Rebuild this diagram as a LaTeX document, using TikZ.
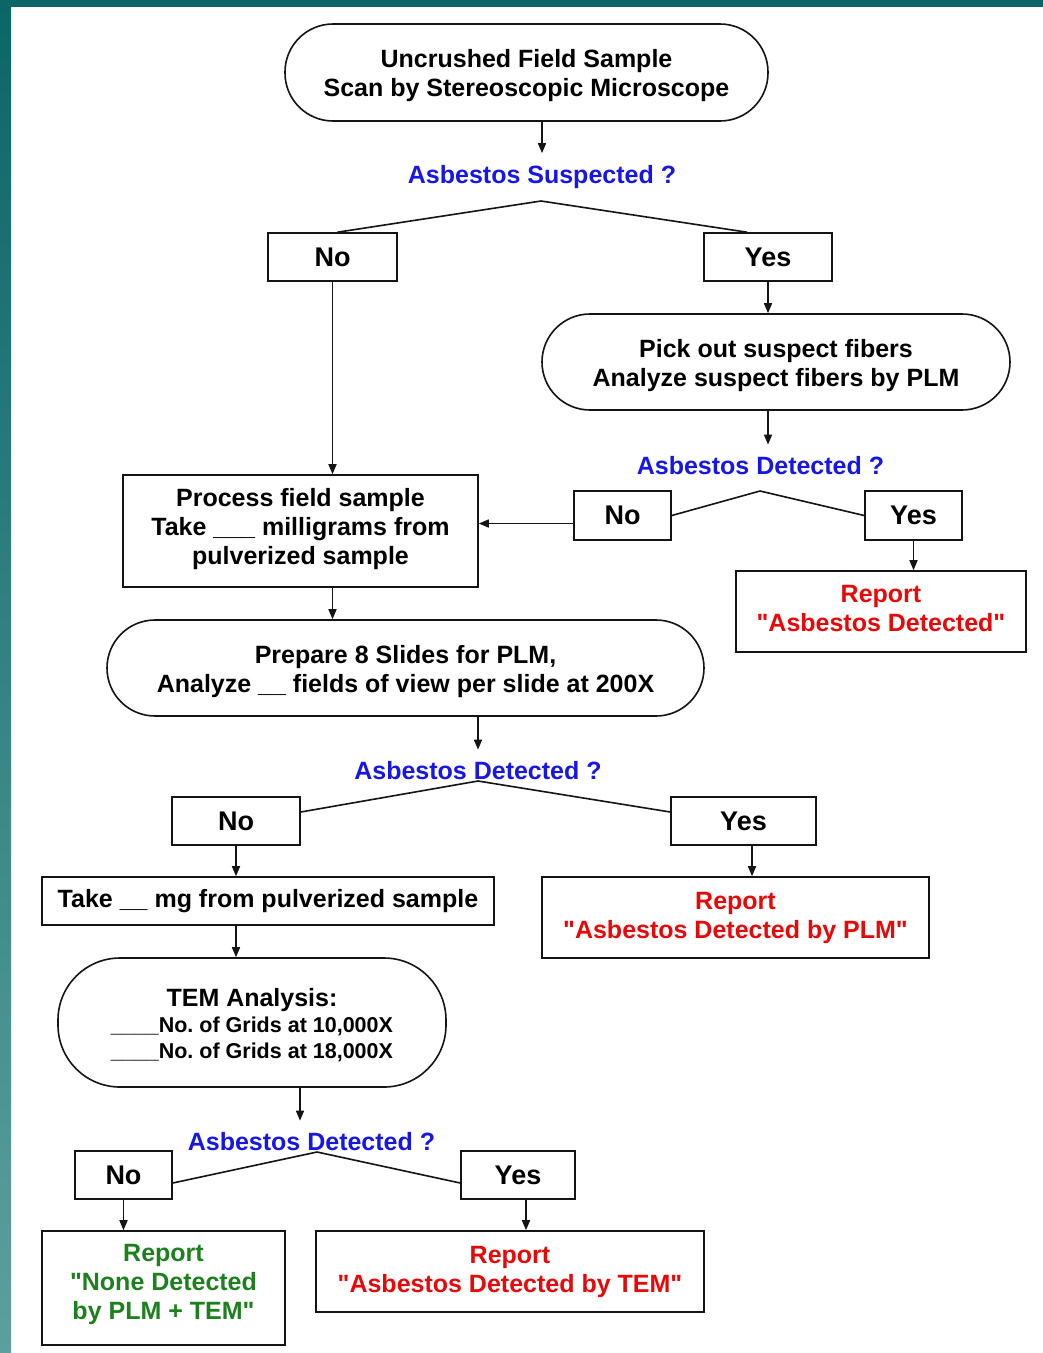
\documentclass[tikz,border=0pt]{standalone}
\usepackage{fontspec}
% plain family: straight " quotes are kept as typed
\newfontfamily\chartfont{Liberation Sans}
\usetikzlibrary{arrows.meta,calc}
\definecolor{qblue}{RGB}{22,22,232}
\definecolor{rred}{RGB}{232,8,8}
\definecolor{ggreen}{RGB}{28,128,28}
\definecolor{tealdark}{RGB}{12,102,102}
\definecolor{teallight}{RGB}{92,160,158}
% invisible struts that push a text block down (top) or up (bottom)
\newcommand\topstrut[1]{\rule{0pt}{#1}}
\newcommand\botstrut[1]{\rule[-#1]{0pt}{1pt}}
\begin{document}
\begin{tikzpicture}[x=1pt,y=-1pt,
  every node/.style={font=\chartfont\bfseries\fontsize{25}{29}\selectfont, align=center, inner sep=0pt},
  stroke/.style={line width=1.6pt, draw=black!92},
  box/.style={stroke, rectangle},
  term/.style={stroke, rectangle, rounded corners=#1},
  choice/.style={box, font=\chartfont\bfseries\fontsize{27}{31}\selectfont, minimum height=48pt},
  question/.style={text=qblue, inner ysep=12pt},
  arr/.style={line width=1.6pt, draw=black!92, -{Triangle[length=10pt,width=8pt]}},
  ln/.style={line width=1.6pt, draw=black!92},
  redtxt/.style={text=rred},
  greentxt/.style={text=ggreen},
  small/.style={font=\chartfont\bfseries\fontsize{21.5}{26}\selectfont}
]
% page frame
\fill[white] (0,0) rectangle (1043,1353);
\shade[top color=tealdark, bottom color=teallight] (0,0) rectangle (11,1353);
\fill[tealdark] (0,0) rectangle (1043,7);
\useasboundingbox (0,0) rectangle (1043,1353);

% stereoscopic scan
\node[term=48pt, minimum width=483pt, minimum height=97pt] (e1) at (526.5,72.5)
  {\topstrut{24pt}Uncrushed Field Sample\\Scan by Stereoscopic Microscope};
\node[question] (q1) at (542,177) {Asbestos Suspected ?};
\coordinate (a1) at (541,201);
\node[choice, minimum width=129pt] (no1) at (332.5,257) {No};
\node[choice, minimum width=128pt] (yes1) at (768,257) {Yes};

% suspect fibres by PLM
\node[term=48pt, minimum width=468pt, minimum height=96pt] (e2) at (776,362)
  {\topstrut{26pt}Pick out suspect fibers\\Analyze suspect fibers by PLM};
\node[question] (q2) at (760.5,466) {Asbestos Detected ?};
\coordinate (a2) at (760,491);
\node[choice, minimum width=97pt, minimum height=49pt] (no2) at (622.5,515.5) {No};
\node[choice, minimum width=97pt, minimum height=49pt] (yes2) at (913.5,515.5) {Yes};
\node[box, redtxt, minimum width=290pt, minimum height=81pt] (r1) at (881,611.5)
  {Report\\"Asbestos Detected"\botstrut{6.5pt}};

% processing and PLM slides
\node[box, minimum width=355pt, minimum height=112pt] (p1) at (300.5,531)
  {Process field sample\\Take \_\_\_ milligrams from\\pulverized sample\botstrut{9.3pt}};
\node[term=48pt, minimum width=597pt, minimum height=96pt] (e3) at (405.5,668)
  {\topstrut{26pt}Prepare 8 Slides for PLM,\\Analyze \_\_ fields of view per slide at 200X};
\node[question] (q3) at (478,771) {Asbestos Detected ?};
\coordinate (a3) at (478,781);
\node[choice, minimum width=128pt] (no3) at (236,821) {No};
\node[choice, minimum width=145pt] (yes3) at (743.5,821) {Yes};
\node[box, minimum width=452pt, minimum height=48pt] (t1) at (268,901)
  {Take \_\_ mg from pulverized sample};
\node[box, redtxt, minimum width=387pt, minimum height=81pt] (r2) at (735.5,917.5)
  {Report\\"Asbestos Detected by PLM"};

% TEM analysis
\node[term=62pt, minimum width=388pt, minimum height=129pt] (e4) at (252,1022.5)
  {\topstrut{23pt}TEM Analysis:\\[-3pt]{\fontsize{21.5}{26}\selectfont \_\_\_\_No.\ of Grids at 10,000X}\\[-3pt]{\fontsize{21.5}{26}\selectfont \_\_\_\_No.\ of Grids at 18,000X}};
\node[question] (q4) at (311.5,1142) {Asbestos Detected ?};
\coordinate (a4) at (317,1152);
\node[choice, minimum width=97pt] (no4) at (123.5,1175) {No};
\node[choice, minimum width=114pt] (yes4) at (518,1175) {Yes};
\node[box, greentxt, minimum width=243pt, minimum height=114pt] (r3) at (163.5,1288)
  {Report\\"None Detected\\by PLM + TEM"\botstrut{11.3pt}};
\node[box, redtxt, minimum width=388pt, minimum height=81pt] (r4) at (510,1271.5)
  {Report\\"Asbestos Detected by TEM"};

% connectors
\draw[arr] (e1.south -| q1.north) -- (q1.north);
\draw[ln] ([xshift=5pt]no1.north) -- (a1) -- ([xshift=-21pt]yes1.north);
\draw[arr] (yes1.south) -- (yes1.south |- e2.north);
\coordinate (c2) at ([xshift=7.5pt]q2.north);
\draw[arr] (c2 |- e2.south) -- (c2);
\draw[ln] (no2.east) -- (a2) -- (yes2.west);
\draw[arr] (yes2.south) -- (yes2.south |- r1.north);
\coordinate (n2l) at ([yshift=-8pt]no2.west);
\draw[arr] (n2l) -- (n2l -| p1.east);
\draw[arr] (no1.south) -- (no1.south |- p1.north);
\draw[arr] (p1.south -| no1.south) -- (no1.south |- e3.north);
\draw[arr] (e3.south -| q3.north) -- (q3.north);
\draw[ln] ([yshift=9pt]no3.east) -- (a3) -- ([yshift=9pt]yes3.west);
\draw[arr] (no3.south) -- (no3.south |- t1.north);
\coordinate (y3b) at ([xshift=8.5pt]yes3.south);
\draw[arr] (y3b) -- (y3b |- r2.north);
\draw[arr] (t1.south -| no3.south) -- (no3.south |- e4.north);
\coordinate (c4) at ([xshift=-11.5pt]q4.north);
\draw[arr] (c4 |- e4.south) -- (c4);
\draw[ln] ([yshift=-8pt]no4.east) -- (a4) -- ([yshift=-8pt]yes4.west);
\draw[arr] (no4.south) -- (no4.south |- r3.north);
\coordinate (y4b) at ([xshift=8pt]yes4.south);
\draw[arr] (y4b) -- (y4b |- r4.north);
\end{tikzpicture}
\end{document}
